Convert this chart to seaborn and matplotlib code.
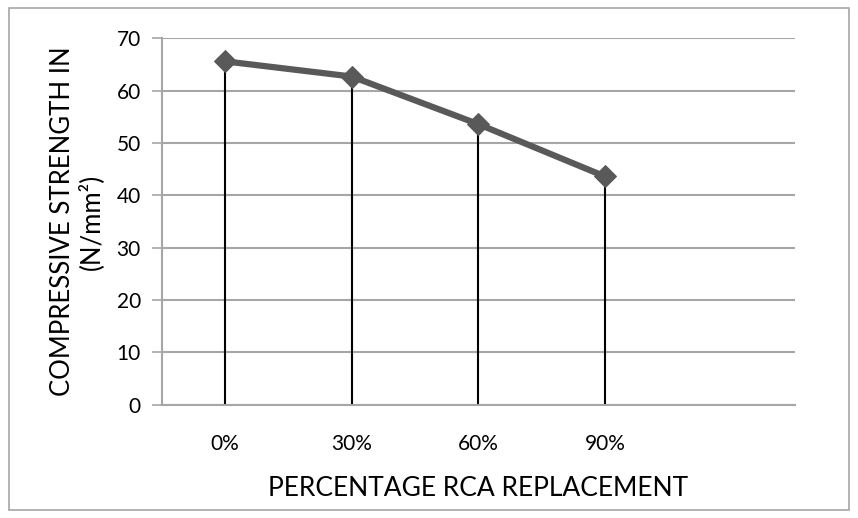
import seaborn as sns
import matplotlib.pyplot as plt
import pandas as pd
from matplotlib.patches import Rectangle

# data
categories = ["0%", "30%", "60%", "90%"]
strength = [65.6, 62.7, 53.6, 43.6]

df = pd.DataFrame({"pos": range(len(categories)), "strength": strength})

sns.set_theme(style="white")
plt.rcParams['font.family'] = ['Lato', 'DejaVu Sans']

fig = plt.figure(figsize=(8.58, 5.18), dpi=100)
ax = fig.add_axes([0.1885, 0.219, 0.738, 0.707])

# drop lines from each point down to the axis
ax.vlines(df["pos"], 0, df["strength"], color="black", linewidth=1.5, zorder=2)

sns.lineplot(data=df, x="pos", y="strength", color="#595959", linewidth=4.5,
             marker="D", markersize=11, markeredgecolor="#595959", ax=ax, zorder=3)

ax.set_xlim(-0.5, 4.5)
ax.set_ylim(0, 70)
ax.set_yticks(range(0, 71, 10))
ax.set_xticks(range(len(categories)))
ax.set_xticklabels(categories)
ax.yaxis.grid(True, color="#a6a6a6", linewidth=1.5)
ax.set_axisbelow(True)

for s in ["top", "right"]:
    ax.spines[s].set_visible(False)
for s in ["left", "bottom"]:
    ax.spines[s].set_color("#a6a6a6")
    ax.spines[s].set_linewidth(1.5)

ax.tick_params(axis="y", which="both", left=True, length=7, width=1.2,
               color="#a6a6a6", labelsize=15, pad=8, labelcolor="black")
ax.tick_params(axis="x", bottom=False, labelsize=15, pad=15, labelcolor="black")

ax.set_xlabel("PERCENTAGE RCA REPLACEMENT", fontsize=19, labelpad=16, color="black")
ax.set_ylabel("COMPRESSIVE STRENGTH IN\n(N/mm²)", fontsize=18.5, labelpad=9,
              color="black", linespacing=1.15)

fig.patches.append(Rectangle((0.011, 0.015), 0.978, 0.97, transform=fig.transFigure,
                             fill=False, edgecolor="#a6a6a6", linewidth=1.2))

fig.savefig("out.png", dpi=100)
